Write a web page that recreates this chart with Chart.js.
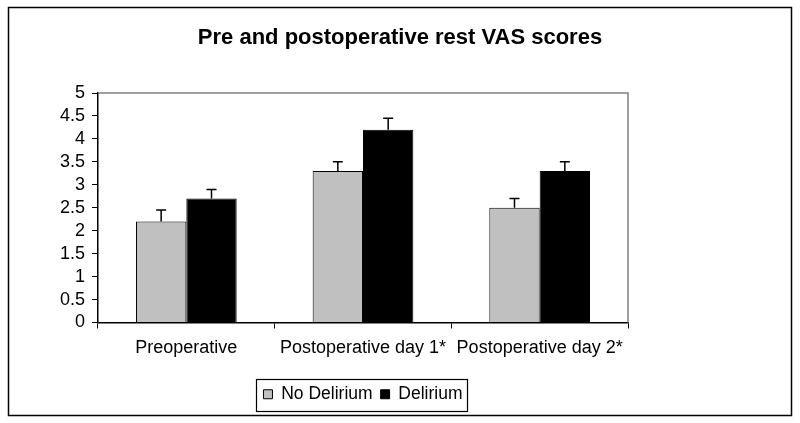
<!DOCTYPE html>
<html>
<head>
<meta charset="utf-8">
<script src="https://cdn.jsdelivr.net/npm/chart.js@4"></script>
<style>
  html, body { margin: 0; padding: 0; background: #fff; }
  #wrap { width: 800px; height: 423px; }
</style>
</head>
<body>
<div id="wrap"><canvas id="vasChart" width="800" height="423"></canvas></div>
<script>
// data
const categories = ['Preoperative', 'Postoperative day 1*', 'Postoperative day 2*'];
const noDelirium = [2.2, 3.3, 2.5];
const noDeliriumErr = [0.25, 0.2, 0.2];
const delirium = [2.7, 4.2, 3.3];
const deliriumErr = [0.2, 0.25, 0.2];
const yTicks = [0, 0.5, 1, 1.5, 2, 2.5, 3, 3.5, 4, 4.5, 5];

const FONT = 'Liberation Sans, Arial, sans-serif';

// upward-only error bars with a small cap
const errorBars = {
  id: 'errorBars',
  afterDatasetsDraw(chart) {
    const ctx = chart.ctx;
    const y = chart.scales.y;
    chart.data.datasets.forEach((ds, i) => {
      const meta = chart.getDatasetMeta(i);
      meta.data.forEach((bar, j) => {
        const top = y.getPixelForValue(ds.data[j] + ds.errors[j]);
        ctx.save();
        ctx.strokeStyle = '#000';
        ctx.lineWidth = 1.5;
        ctx.beginPath();
        ctx.moveTo(bar.x, bar.y);
        ctx.lineTo(bar.x, top);
        ctx.moveTo(bar.x - 5, top);
        ctx.lineTo(bar.x + 5, top);
        ctx.stroke();
        ctx.restore();
      });
    });
  }
};

// white background, outer frame, plot frame and legend box
const frames = {
  id: 'frames',
  beforeDraw(chart) {
    const ctx = chart.ctx;
    ctx.save();
    ctx.fillStyle = '#fff';
    ctx.fillRect(0, 0, chart.width, chart.height);
    ctx.restore();
  },
  afterDraw(chart) {
    const ctx = chart.ctx;
    const a = chart.chartArea;
    ctx.save();
    // plot area top and right edge
    ctx.strokeStyle = '#808080';
    ctx.lineWidth = 1.5;
    ctx.beginPath();
    ctx.moveTo(a.left, a.top);
    ctx.lineTo(a.right, a.top);
    ctx.lineTo(a.right, a.bottom);
    ctx.stroke();
    // outer frame
    ctx.strokeStyle = '#000';
    ctx.lineWidth = 1.5;
    ctx.strokeRect(8.5, 7.5, 783, 408);
    // legend border
    const boxes = chart.legend.legendHitBoxes;
    if (boxes && boxes.length) {
      const first = boxes[0], last = boxes[boxes.length - 1];
      const l = first.left - 7, r = last.left + last.width + 5;
      const t = first.top - 7, b = first.top + first.height + 7;
      ctx.lineWidth = 1.2;
      ctx.strokeRect(Math.round(l) + 0.5, Math.round(t) + 0.5, Math.round(r - l), Math.round(b - t));
    }
    ctx.restore();
  }
};

const ctx = document.getElementById('vasChart').getContext('2d');
new Chart(ctx, {
  type: 'bar',
  data: {
    labels: categories,
    datasets: [
      {
        label: 'No Delirium',
        data: noDelirium,
        errors: noDeliriumErr,
        backgroundColor: '#c0c0c0',
        borderColor: '#000',
        borderWidth: 1
      },
      {
        label: 'Delirium',
        data: delirium,
        errors: deliriumErr,
        backgroundColor: '#000',
        borderColor: '#000',
        borderWidth: 1
      }
    ]
  },
  options: {
    responsive: false,
    animation: false,
    devicePixelRatio: 1,
    categoryPercentage: 0.57,
    barPercentage: 1,
    layout: { padding: { left: 0, right: 0, top: 0, bottom: 10 } },
    plugins: {
      title: {
        display: true,
        text: 'Pre and postoperative rest VAS scores',
        color: '#000',
        font: { family: FONT, size: 22, weight: 'bold' },
        padding: { top: 25, bottom: 41.6 }
      },
      legend: {
        position: 'bottom',
        fullSize: false,
        labels: {
          color: '#000',
          font: { family: FONT, size: 17.5 },
          boxWidth: 9,
          boxHeight: 9,
          padding: 8
        }
      },
      tooltip: { enabled: false }
    },
    scales: {
      x: {
        grid: {
          display: true,
          drawOnChartArea: false,
          drawTicks: true,
          tickLength: 6,
          color: '#000',
          offset: true
        },
        border: { color: '#000', width: 1.5 },
        ticks: {
          color: '#000',
          font: { family: FONT, size: 18 },
          padding: 9,
          maxRotation: 0,
          autoSkip: false
        },
        afterFit(scale) { scale.height = 55; }
      },
      y: {
        min: 0,
        max: 5,
        grid: {
          display: true,
          drawOnChartArea: false,
          drawTicks: true,
          tickLength: 6,
          color: '#000'
        },
        border: { color: '#000', width: 1.5 },
        afterBuildTicks(scale) {
          scale.ticks = yTicks.map(v => ({ value: v }));
        },
        ticks: {
          color: '#000',
          font: { family: FONT, size: 18 },
          padding: 7,
          autoSkip: false,
          callback: v => String(v)
        },
        afterFit(scale) { scale.width = 98; }
      },
      y2: {
        position: 'right',
        display: true,
        grid: { display: false },
        border: { display: false },
        ticks: { display: false },
        afterFit(scale) { scale.width = 172; }
      }
    }
  },
  plugins: [errorBars, frames]
});
</script>
</body>
</html>
